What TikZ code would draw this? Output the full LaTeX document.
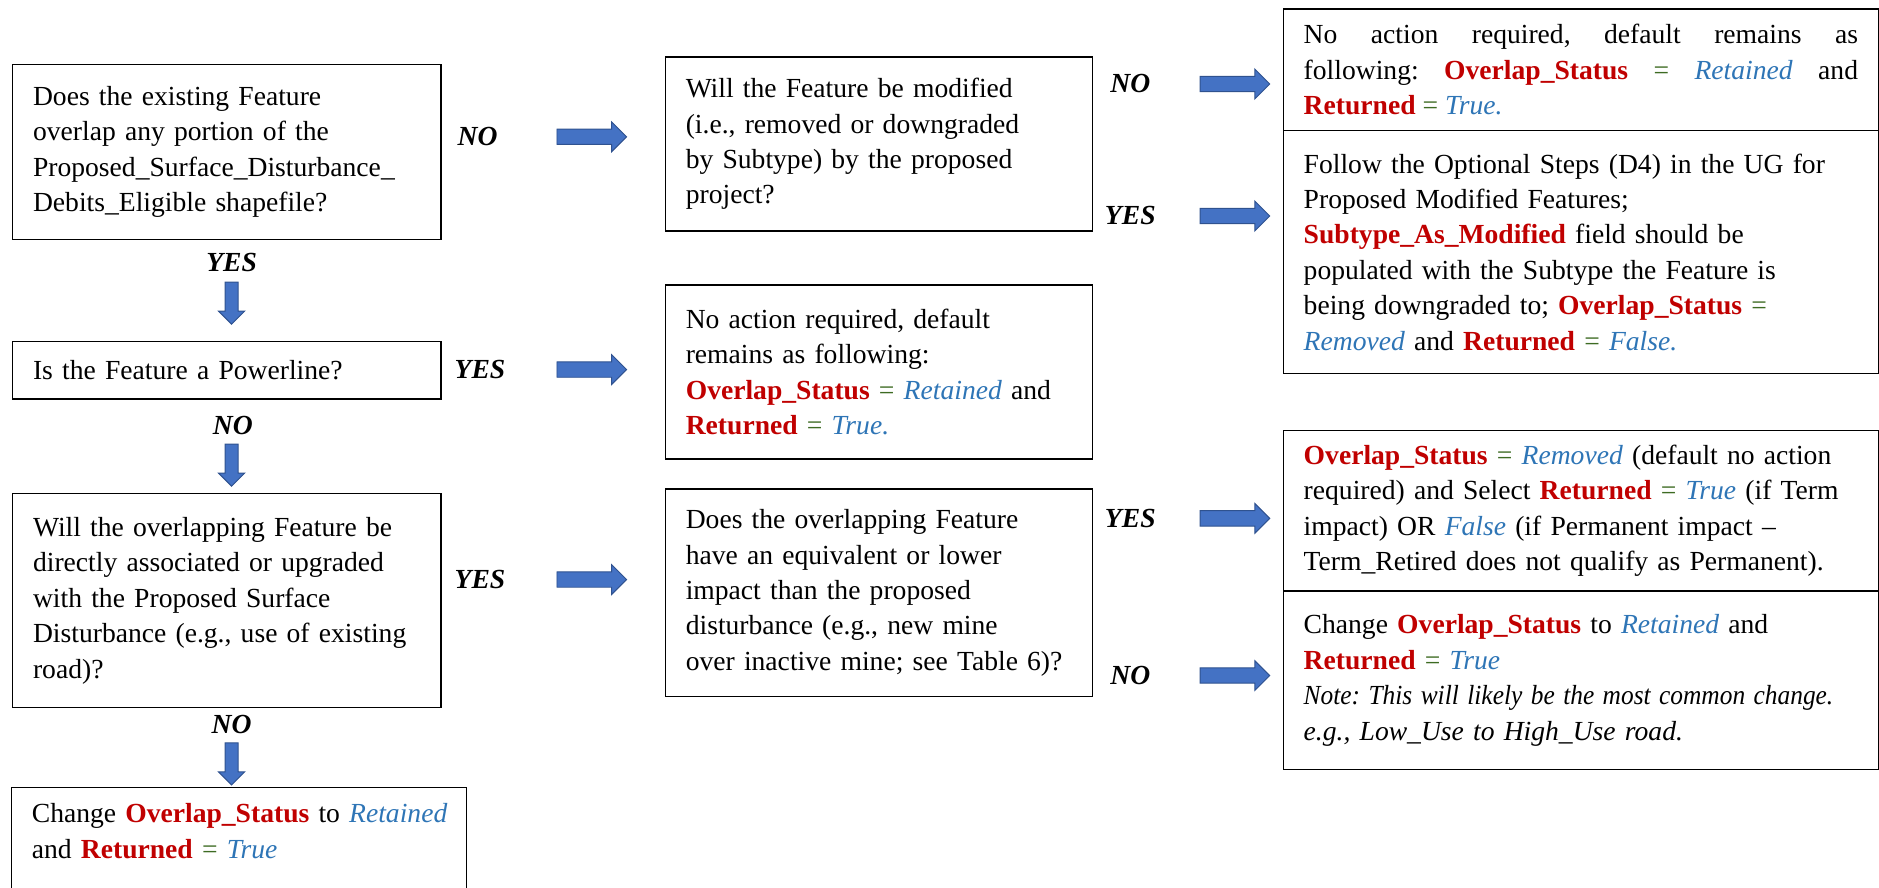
\documentclass[tikz,border=0pt]{standalone}
\usepackage{fontspec}
\usepackage{graphicx}
\setmainfont{Liberation Serif}
\usetikzlibrary{shapes.arrows}

\definecolor{fldred}{HTML}{C00000}
\definecolor{valblue}{HTML}{2E75B6}
\definecolor{eqgreen}{HTML}{3D6B22}
\definecolor{arrowfill}{HTML}{4472C4}
\definecolor{arrowedge}{HTML}{2F528F}

\newcommand{\boxfont}{\fontsize{23pt}{29.5pt}\selectfont\frenchspacing}
\newcommand{\fieldname}[1]{\textcolor{fldred}{\textbf{#1}}}
\newcommand{\fieldval}[1]{\textcolor{valblue}{\textit{#1}}}
\newcommand{\eqsign}{\textcolor{eqgreen}{=}}

\begin{document}
\begin{tikzpicture}[
  x=1pt, y=-1pt,
  box/.style      = {draw, line width=1.1pt, anchor=north west, align=left,
                     inner xsep=17pt, inner ysep=0pt, font=\boxfont},
  leftbox/.style  = {box, minimum width=357pt, text width=323pt},
  midbox/.style   = {box, minimum width=356pt, text width=322pt},
  rightbox/.style = {box, minimum width=496pt, text width=462pt},
  answer/.style   = {font=\boxfont\bfseries\itshape, inner sep=0pt},
  rarrow/.style   = {single arrow, draw=arrowedge, fill=arrowfill, line width=0.8pt,
                     inner xsep=0pt, inner ysep=6pt, single arrow head extend=6pt,
                     minimum height=58pt},
  darrow/.style   = {rarrow, rotate=-90, inner ysep=5pt,
                     single arrow head extend=5.5pt, minimum height=35pt}
]

\useasboundingbox (0,0) rectangle (1566,740);

% ---- left column ----
\node[leftbox, minimum height=146pt] (overlapq) at (10,53) {
  Does the existing Feature\\
  overlap any portion of the\\
  Proposed\_Surface\_Disturbance\_\\
  Debits\_Eligible shapefile?
};

\node[leftbox, minimum height=48pt] (powerq) at (10,284) {Is the Feature a Powerline?};

\node[leftbox, minimum height=178pt] (assocq) at (10,411) {
  Will the overlapping Feature be\\
  directly associated or upgraded\\
  with the Proposed Surface\\
  \mbox{Disturbance (e.g., use of existing}\\
  road)?
};

\node[box, minimum width=379pt, text width=345pt, minimum height=140pt] (changek) at (9,656) {
  \mbox{Change \fieldname{Overlap\_Status} to \fieldval{Retained}}\\
  and \fieldname{Returned} \eqsign{} \fieldval{True}\\
  \strut\\
  \strut
};

% ---- middle column ----
\node[midbox, minimum height=145pt] (modq) at (554,47) {
  Will the Feature be modified\\
  (i.e., removed or downgraded\\
  by Subtype) by the proposed\\
  project?
};

\node[midbox, minimum height=145pt] (keepf) at (554,237) {
  No action required, default\\
  remains as following:\\
  \fieldname{Overlap\_Status} \eqsign{} \fieldval{Retained} and\\
  \fieldname{Returned} \eqsign{} \fieldval{True.}
};

\node[midbox, minimum height=173pt] (impactq) at (554,407) {
  Does the overlapping Feature\\
  have an equivalent or lower\\
  impact than the proposed\\
  disturbance (e.g., new mine\\
  \mbox{over inactive mine; see Table 6)?}
};

% ---- right column ----
\node[rightbox, align=justify, minimum height=101pt] (keepc) at (1069,7) {
  No action required, default remains as\linebreak
  following: \fieldname{Overlap\_Status} \eqsign{} \fieldval{Retained} and\linebreak
  \fieldname{Returned} \eqsign{} \fieldval{True.}
};

\node[rightbox, minimum height=203pt] (optd) at (1069,108) {
  Follow the Optional Steps (D4) in the UG for\\
  Proposed Modified Features;\\
  \fieldname{Subtype\_As\_Modified} field should be\\
  populated with the Subtype the Feature is\\
  being downgraded to; \fieldname{Overlap\_Status} \eqsign\\
  \fieldval{Removed} and \fieldname{Returned} \eqsign{} \fieldval{False.}
};

\node[rightbox, minimum height=134pt] (removi) at (1069,358) {
  \mbox{\fieldname{Overlap\_Status} \eqsign{} \fieldval{Removed} (default no action}\\
  \mbox{required) and Select \fieldname{Returned} \eqsign{} \fieldval{True} (if Term}\\
  \mbox{impact) OR \fieldval{False} (if Permanent impact --}\\
  \mbox{Term\_Retired does not qualify as Permanent).}
};

\node[rightbox, minimum height=149pt] (changej) at (1069,492) {
  Change \fieldname{Overlap\_Status} to \fieldval{Retained} and\\
  \fieldname{Returned} \eqsign{} \fieldval{True}\\
  \scalebox{0.92}[1]{\textit{Note: This will likely be the most common change.}}\\
  \textit{e.g., Low\_Use to High\_Use road.}
};

% ---- answers and block arrows ----
\node[answer] (noA)   at (398,114) {NO};
\node[rarrow] (arrA)  at (490,114) {};
\node[answer] (yesA)  at (193,219) {YES};
\node[darrow] (arrAd) at (193,250) {};

\node[answer] (yesE)  at (400,308) {YES};
\node[rarrow] (arrE)  at (490,308) {};
\node[answer] (noE)   at (194,355) {NO};
\node[darrow] (arrEd) at (193,385) {};

\node[answer] (yesG)  at (400,483) {YES};
\node[rarrow] (arrG)  at (490,483) {};
\node[answer] (noG)   at (193,604) {NO};
\node[darrow] (arrGd) at (193,634) {};

\node[answer] (noB)   at (942,70)  {NO};
\node[rarrow] (arrB1) at (1026,70) {};
\node[answer] (yesB)  at (942,180) {YES};
\node[rarrow] (arrB2) at (1026,180) {};

\node[answer] (yesH)  at (942,432) {YES};
\node[rarrow] (arrH1) at (1026,432) {};
\node[answer] (noH)   at (942,563) {NO};
\node[rarrow] (arrH2) at (1026,563) {};

\end{tikzpicture}
\end{document}
